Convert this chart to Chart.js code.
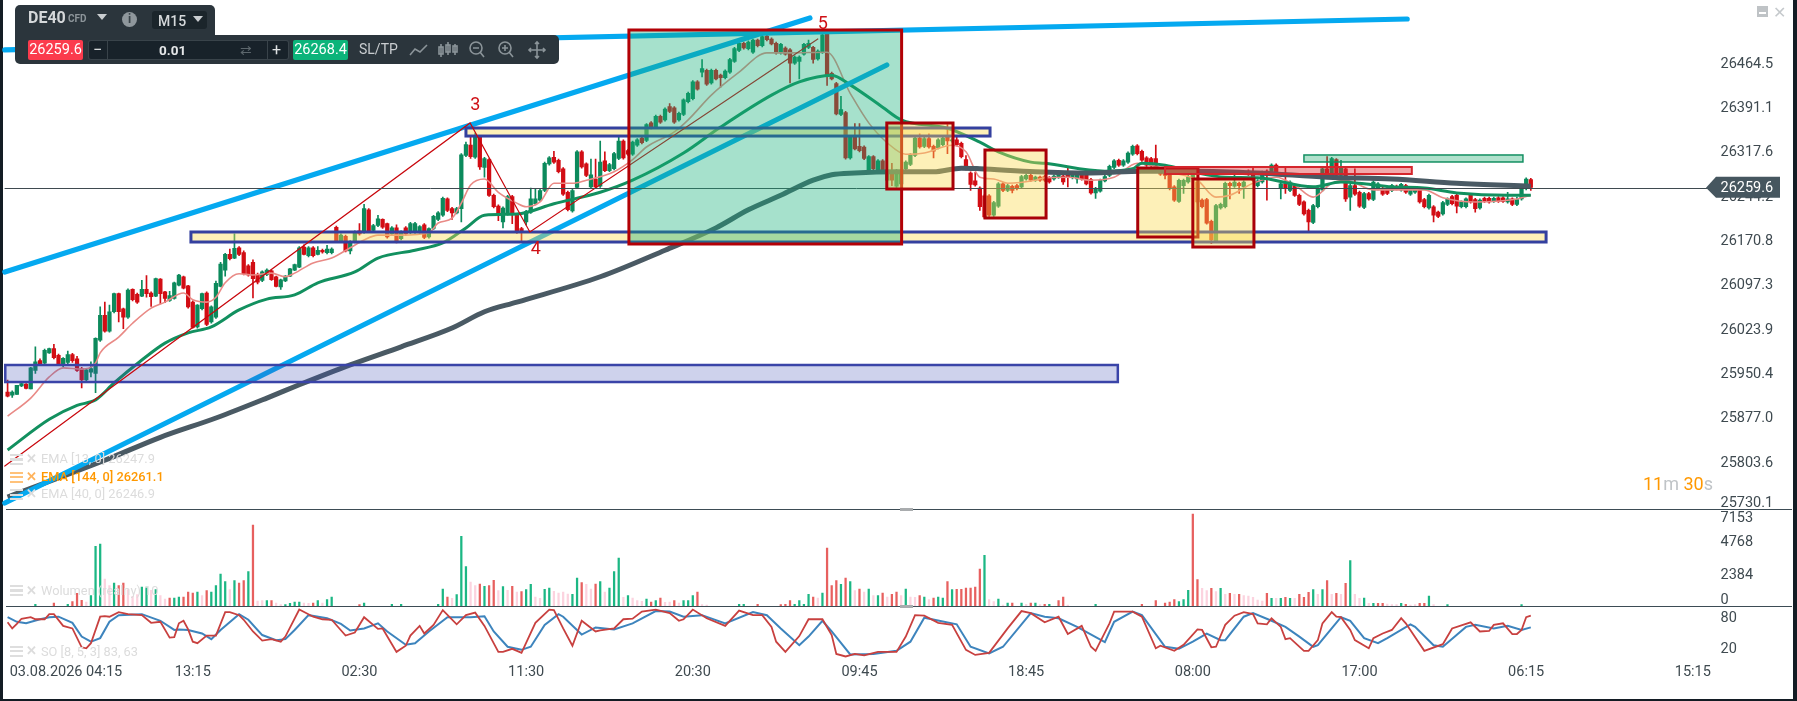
<!DOCTYPE html>
<html>
<head>
<meta charset="utf-8">
<title>DE40 M15</title>
<script src="https://cdn.jsdelivr.net/npm/chart.js@4/dist/chart.umd.min.js"></script>
<style>
html, body { margin: 0; padding: 0; width: 1797px; height: 701px; overflow: hidden; background: #131c24; font-family: Roboto, sans-serif; }
#paper { position: absolute; left: 3px; top: 0; width: 1790px; height: 699px; background: #fff; }
#chart { position: absolute; left: 0; top: 0; }
.abs { position: absolute; white-space: nowrap; line-height: 1; }
.panel { position: absolute; background: #2b353c; }
.legend { font-size: 12.8px; color: #dcdcdc; }
.stripes { position: absolute; width: 13px; height: 11px; background: repeating-linear-gradient(#dedede 0 2px, transparent 2px 4.5px); }
.tri { position: absolute; width: 0; height: 0; border-left: 5px solid transparent; border-right: 5px solid transparent; border-top: 6px solid #c9cdd0; }
</style>
</head>
<body>
<div id="paper"></div>
<canvas id="chart" width="1797" height="701"></canvas>

<!-- toolbar -->
<div class="panel" style="left:15px;top:5px;width:200px;height:34px;border-radius:5px 5px 0 0"></div>
<div class="panel" style="left:15px;top:35px;width:544px;height:29px;border-radius:0 5px 5px 5px"></div>
<div class="abs" style="left:28px;top:10px;font-size:16px;font-weight:700;color:#d5d8da">DE40</div>
<div class="abs" style="left:68px;top:14px;font-size:10px;font-weight:700;color:#8c9499">CFD</div>
<div class="tri" style="left:97px;top:14px"></div>
<div class="abs" style="left:122px;top:12px;width:15px;height:15px;border-radius:8px;background:#8f979c;color:#3a444a;font-size:12px;font-weight:700;text-align:center;line-height:15px">i</div>
<div class="abs" style="left:152px;top:11px;width:55px;height:18px;background:#1b252b;border-radius:3px"></div>
<div class="abs" style="left:158px;top:14px;font-size:14px;font-weight:500;color:#d5d8da">M15</div>
<div class="tri" style="left:193px;top:16px"></div>
<div class="abs" style="left:28px;top:40px;width:55px;height:20px;background:#fb3b4d;border-radius:2px;color:#fff;font-size:14.5px;text-align:center;line-height:20px">26259.6</div>
<div class="abs" style="left:89px;top:41px;width:199px;height:18px;background:#18222a;border-radius:2px;box-shadow:0 0 0 1px #39434a"></div>
<div class="abs" style="left:107px;top:41px;width:1px;height:18px;background:#39434a"></div>
<div class="abs" style="left:267px;top:41px;width:1px;height:18px;background:#39434a"></div>
<div class="abs" style="left:93px;top:42px;font-size:16px;color:#dfe2e4">−</div>
<div class="abs" style="left:159px;top:44px;font-size:13.5px;font-weight:700;color:#e4e6e8">0.01</div>
<div class="abs" style="left:240px;top:43px;font-size:14px;color:#5c666c">⇄</div>
<div class="abs" style="left:272px;top:42px;font-size:16px;color:#dfe2e4">+</div>
<div class="abs" style="left:293px;top:40px;width:55px;height:20px;background:#0cb47a;border-radius:2px;color:#fff;font-size:14.5px;text-align:center;line-height:20px">26268.4</div>
<div class="abs" style="left:359px;top:42px;font-size:14px;color:#c9cdd0">SL/TP</div>
<svg class="abs" style="left:408px;top:40px" width="145" height="20" fill="none" stroke="#8b9499" stroke-width="1.6">
  <path d="M2 15 L7 9 L12 12 L19 5"/>
  <path d="M33 4V17M40 2V15M47 4V15"/><rect x="31" y="7" width="4" height="7"/><rect x="38" y="5" width="4" height="7"/><rect x="45" y="6" width="4" height="6"/>
  <circle cx="68" cy="8" r="6"/><path d="M65 8H71M72 12L76 17"/>
  <circle cx="97" cy="8" r="6"/><path d="M94 8H100M97 5V11M101 12L105 17"/>
  <path d="M129 2V18M121 10H137M127 4L129 2L131 4M127 16L129 18L131 16M123 8L121 10L123 12M135 8L137 10L135 12"/>
</svg>

<!-- window buttons -->
<div class="abs" style="left:1757px;top:6px;width:11px;height:11px;background:#bfc3c6;border-bottom:0"></div>
<div class="abs" style="left:1759px;top:12px;width:7px;height:2px;background:#fff"></div>
<div class="abs" style="left:1773px;top:5px;font-size:16px;color:#c5c9cc">✕</div>

<!-- indicator legends -->
<div class="stripes" style="left:10px;top:454px"></div>
<div class="abs legend" style="left:26px;top:453px;font-weight:700">✕</div>
<div class="abs legend" style="left:41px;top:453px">EMA [13, 0] 26247.9</div>
<div class="stripes" style="left:10px;top:472px;background:repeating-linear-gradient(#ffc27a 0 2px, transparent 2px 4.5px)"></div>
<div class="abs legend" style="left:26px;top:471px;font-weight:700;color:#ffb35c">✕</div>
<div class="abs legend" style="left:41px;top:471px;color:#ff9800;font-weight:500">EMA [144, 0] 26261.1</div>
<div class="stripes" style="left:10px;top:489px"></div>
<div class="abs legend" style="left:26px;top:488px;font-weight:700">✕</div>
<div class="abs legend" style="left:41px;top:488px">EMA [40, 0] 26246.9</div>
<div class="stripes" style="left:10px;top:585px"></div>
<div class="abs legend" style="left:26px;top:585px;font-weight:700">✕</div>
<div class="abs legend" style="left:41px;top:585px">Wolumen (realny) 10</div>
<div class="stripes" style="left:10px;top:646px"></div>
<div class="abs legend" style="left:26px;top:645px;font-weight:700">✕</div>
<div class="abs legend" style="left:41px;top:646px">SO [8, 5, 3] 83, 63</div>

<!-- candle countdown -->
<div class="abs" style="left:1643px;top:475px;font-size:18px;color:#c0c4c7"><span style="color:#ff9800">11</span>m <span style="color:#ff9800">30</span>s</div>

<script>
const opens = [
  25921,25916,25917,25931,25934,25926,25957,25973,25969,25986,
  25993,25982,25965,25970,25983,25976,25960,25941,25954,25952,
  26007,26048,26022,26054,26084,26059,26045,26091,26083,26080,
  26091,26085,26080,26108,26087,26073,26076,26098,26112,26097,
  26070,26029,26059,26085,26037,26045,26096,26123,26149,26143,
  26160,26152,26130,26136,26116,26106,26116,26122,26112,26095,
  26105,26113,26123,26128,26161,26147,26160,26149,26156,26152,
  26152,26194,26172,26179,26155,26170,26188,26186,26223,26189,
  26197,26207,26200,26183,26193,26175,26193,26185,26186,26186,
  26198,26178,26192,26207,26214,26241,26225,26218,26225,26313,
  26330,26310,26343,26293,26306,26247,26229,26203,26216,26245,
  26215,26192,26203,26219,26233,26239,26255,26299,26310,26305,
  26291,26252,26221,26260,26319,26299,26261,26274,26262,26304,
  26288,26291,26308,26337,26321,26315,26330,26342,26338,26367,
  26360,26378,26372,26394,26392,26372,26381,26402,26407,26435,
  26451,26454,26433,26454,26446,26442,26451,26469,26487,26499,
  26490,26484,26504,26495,26511,26506,26499,26483,26491,26488,
  26466,26469,26481,26492,26492,26473,26484,26515,26449,26432,
  26381,26384,26309,26343,26328,26327,26288,26311,26288,26304,
  26272,26283,26262,26266,26291,26298,26313,26342,26328,26341,
  26328,26326,26331,26343,26337,26339,26333,26306,26284,26271,
  26259,26246,26246,26214,26229,26266,26255,26262,26263,26261,
  26274,26280,26272,26277,26278,26276,26274,26277,26279,26280,
  26276,26274,26280,26280,26273,26251,26254,26271,26280,26293,
  26305,26297,26302,26315,26329,26320,26309,26308,26308,26285,
  26284,26280,26261,26237,26263,26269,26274,26269,26239,26240,
  26204,26172,26226,26228,26267,26262,26267,26261,26287,26283,
  26263,26269,26287,26285,26297,26258,26266,26255,26263,26247,
  26236,26222,26202,26228,26256,26291,26280,26306,26280,26291,
  26244,26263,26252,26227,26250,26240,26258,26258,26258,26255,
  26262,26256,26263,26249,26252,26256,26240,26226,26228,26219,
  26216,26232,26245,26247,26228,26228,26247,26240,26226,26242,
  26242,26237,26243,26243,26236,26241,26232,26241,26258,26273
];
const closes = [
  25914,25921,25932,25935,25927,25961,25971,25968,25990,25993,
  25978,25968,25977,25983,25973,25957,25941,25958,25960,26010,
  26048,26022,26054,26084,26054,26045,26090,26074,26070,26091,
  26084,26079,26109,26084,26076,26081,26102,26115,26093,26062,
  26028,26065,26084,26033,26062,26101,26133,26149,26142,26159,
  26149,26117,26115,26109,26103,26120,26123,26107,26096,26107,
  26113,26125,26132,26160,26149,26160,26147,26156,26153,26158,
  26158,26172,26181,26155,26170,26186,26183,26225,26188,26197,
  26208,26194,26178,26193,26170,26186,26183,26200,26200,26195,
  26177,26192,26212,26218,26242,26222,26218,26225,26314,26331,
  26311,26346,26294,26308,26247,26228,26214,26226,26245,26216,
  26186,26186,26220,26241,26241,26255,26300,26309,26302,26286,
  26249,26223,26255,26319,26294,26280,26281,26261,26302,26288,
  26298,26316,26337,26309,26315,26335,26339,26334,26364,26359,
  26378,26368,26390,26386,26368,26383,26405,26416,26435,26423,
  26457,26431,26454,26440,26442,26453,26472,26490,26499,26491,
  26501,26504,26495,26510,26505,26498,26483,26497,26481,26466,
  26476,26476,26497,26499,26472,26486,26513,26446,26440,26382,
  26389,26309,26343,26324,26321,26308,26311,26291,26304,26287,
  26288,26272,26288,26288,26302,26314,26342,26327,26341,26327,
  26320,26339,26342,26337,26339,26331,26311,26291,26265,26264,
  26228,26211,26214,26235,26266,26255,26263,26255,26258,26278,
  26280,26272,26277,26272,26272,26269,26279,26282,26269,26276,
  26283,26283,26274,26266,26251,26258,26272,26278,26295,26304,
  26297,26304,26317,26328,26316,26305,26297,26297,26297,26282,
  26280,26258,26239,26272,26272,26277,26285,26236,26228,26201,
  26173,26230,26232,26267,26263,26269,26263,26269,26282,26272,
  26271,26285,26280,26297,26285,26266,26258,26269,26247,26232,
  26216,26203,26230,26258,26291,26280,26308,26280,26294,26241,
  26263,26249,26229,26250,26241,26269,26266,26249,26250,26263,
  26258,26265,26252,26258,26258,26236,26228,26247,26214,26212,
  26235,26241,26233,26229,26236,26241,26236,26225,26239,26237,
  26236,26242,26237,26237,26241,26232,26240,26260,26274,26260
];
const highs = [
  25941,25923,25932,25937,25935,25962,25996,25976,25992,25994,
  26000,25984,25978,25989,25985,25980,25962,25960,25971,26011,
  26062,26070,26065,26085,26085,26060,26092,26092,26085,26106,
  26114,26087,26110,26109,26088,26088,26103,26116,26113,26098,
  26072,26066,26085,26087,26064,26105,26136,26151,26158,26183,
  26162,26155,26132,26140,26118,26122,26125,26123,26113,26108,
  26114,26126,26133,26162,26165,26162,26162,26162,26158,26164,
  26160,26196,26183,26181,26172,26188,26200,26232,26225,26199,
  26214,26208,26201,26195,26198,26188,26195,26202,26202,26197,
  26200,26193,26214,26220,26244,26243,26227,26227,26316,26335,
  26346,26350,26346,26310,26308,26249,26231,26228,26247,26247,
  26217,26194,26222,26259,26258,26257,26302,26311,26320,26307,
  26293,26254,26257,26321,26321,26301,26307,26307,26337,26319,
  26300,26318,26343,26339,26323,26337,26341,26344,26366,26369,
  26380,26380,26392,26399,26394,26385,26407,26418,26437,26437,
  26472,26456,26456,26456,26448,26455,26474,26492,26501,26501,
  26503,26506,26506,26512,26513,26508,26501,26499,26493,26490,
  26478,26478,26499,26504,26494,26488,26515,26517,26451,26434,
  26411,26386,26345,26366,26366,26329,26313,26313,26306,26306,
  26290,26300,26290,26290,26304,26316,26344,26349,26343,26349,
  26330,26341,26344,26364,26341,26346,26335,26313,26286,26285,
  26261,26248,26248,26237,26268,26268,26265,26264,26265,26280,
  26282,26282,26279,26279,26280,26278,26281,26284,26281,26293,
  26285,26285,26282,26282,26275,26260,26274,26280,26297,26306,
  26307,26306,26319,26330,26331,26322,26311,26310,26330,26287,
  26286,26282,26263,26274,26274,26295,26287,26271,26241,26242,
  26206,26232,26234,26269,26269,26283,26269,26271,26289,26295,
  26273,26287,26289,26299,26299,26268,26294,26271,26265,26249,
  26238,26224,26232,26260,26293,26311,26310,26308,26305,26293,
  26265,26291,26254,26252,26252,26271,26268,26260,26260,26265,
  26264,26267,26265,26260,26260,26258,26242,26249,26230,26221,
  26237,26243,26247,26249,26238,26243,26249,26242,26241,26244,
  26244,26244,26245,26245,26252,26243,26244,26262,26276,26275
];
const lows = [
  25913,25912,25917,25930,25926,25926,25952,25965,25968,25985,
  25976,25966,25963,25968,25970,25955,25928,25939,25946,25920,
  26005,26020,26020,26052,26037,26026,26043,26072,26068,26079,
  26078,26063,26079,26067,26069,26071,26075,26097,26092,26060,
  26027,26027,26057,26031,26035,26043,26095,26113,26140,26142,
  26147,26115,26113,26077,26100,26104,26114,26106,26095,26091,
  26104,26112,26122,26127,26148,26145,26145,26148,26151,26150,
  26150,26170,26170,26153,26150,26168,26181,26184,26186,26187,
  26195,26192,26176,26181,26168,26173,26181,26183,26184,26184,
  26175,26176,26190,26205,26212,26220,26207,26216,26203,26311,
  26308,26308,26290,26277,26245,26226,26205,26193,26214,26200,
  26184,26170,26198,26217,26231,26237,26253,26297,26300,26284,
  26247,26221,26219,26258,26292,26278,26259,26259,26260,26286,
  26286,26289,26306,26307,26313,26313,26328,26332,26336,26357,
  26358,26366,26370,26384,26366,26370,26379,26400,26405,26421,
  26443,26429,26431,26438,26426,26440,26449,26467,26485,26489,
  26488,26482,26493,26493,26503,26496,26481,26481,26479,26433,
  26464,26440,26479,26490,26466,26471,26482,26429,26438,26380,
  26379,26307,26307,26322,26319,26306,26286,26289,26286,26285,
  26270,26263,26260,26264,26289,26296,26311,26325,26326,26325,
  26309,26324,26329,26316,26335,26329,26309,26289,26255,26262,
  26222,26209,26212,26212,26227,26253,26253,26251,26256,26259,
  26272,26270,26270,26270,26270,26267,26272,26275,26265,26261,
  26274,26267,26272,26264,26249,26242,26252,26269,26278,26291,
  26295,26295,26300,26313,26314,26303,26295,26295,26288,26280,
  26274,26256,26237,26235,26250,26267,26272,26234,26226,26199,
  26167,26170,26224,26226,26241,26260,26250,26242,26280,26270,
  26261,26267,26239,26283,26283,26241,26250,26253,26245,26230,
  26214,26187,26200,26226,26254,26278,26278,26278,26278,26237,
  26222,26247,26227,26225,26239,26238,26256,26247,26248,26253,
  26256,26254,26250,26247,26250,26234,26226,26224,26203,26210,
  26214,26230,26231,26218,26226,26226,26234,26219,26224,26235,
  26234,26235,26235,26235,26234,26230,26230,26239,26256,26255
];

// indicator lines, [bar, value]
const ema13 = [[0,25881],[5,25911],[9,25946],[12,25961],[16,25959],[19,25969],[20,25986],[24,26012],[27,26035],[31,26060],[34,26070],[38,26085],[40,26074],[43,26070],[45,26078],[47,26102],[50,26117],[53,26115],[57,26118],[60,26112],[62,26118],[66,26135],[70,26143],[74,26160],[77,26173],[80,26181],[85,26181],[91,26185],[93,26201],[96,26209],[98,26234],[100,26264],[103,26274],[106,26252],[110,26234],[112,26228],[115,26236],[118,26267],[122,26267],[125,26272],[131,26286],[135,26306],[138,26327],[144,26352],[147,26372],[152,26413],[158,26451],[164,26483],[169,26483],[177,26484],[182,26416],[186,26367],[190,26334],[194,26315],[198,26317],[204,26330],[207,26319],[210,26277],[213,26274],[216,26267],[222,26272],[224,26276],[229,26277],[234,26272],[239,26277],[244,26300],[247,26297],[252,26284],[257,26272],[261,26244],[264,26247],[269,26267],[274,26277],[278,26264],[282,26244],[286,26267],[289,26272],[295,26256],[303,26256],[306,26256],[310,26243],[317,26236],[326,26241],[329,26247]];
const ema40 = [[0,25825],[9,25876],[15,25899],[19,25908],[23,25936],[29,25974],[34,26002],[39,26019],[44,26029],[50,26057],[56,26075],[62,26082],[67,26102],[75,26120],[80,26143],[88,26156],[94,26168],[99,26193],[103,26214],[110,26216],[118,26233],[128,26252],[135,26272],[146,26317],[154,26360],[165,26413],[171,26435],[178,26446],[182,26430],[189,26393],[193,26372],[203,26358],[210,26335],[214,26319],[221,26302],[224,26300],[237,26287],[243,26291],[245,26300],[250,26297],[257,26284],[263,26277],[270,26276],[282,26261],[288,26269],[293,26266],[299,26261],[306,26259],[313,26251],[324,26247],[329,26247]];
const ema144 = [[0,25747],[21,25808],[33,25846],[45,25878],[56,25911],[63,25933],[74,25966],[85,25996],[96,26027],[103,26054],[110,26070],[128,26112],[142,26156],[153,26193],[160,26223],[167,26247],[174,26272],[178,26281],[183,26284],[192,26286],[200,26286],[206,26292],[210,26291],[222,26286],[234,26284],[245,26287],[256,26287],[270,26284],[285,26277],[299,26274],[313,26267],[329,26262]];

// volume, [bar, value]
const volGreen = [[6,130],[13,130],[18,803],[19,4636],[20,4817],[23,1787],[29,1476],[30,1476],[32,1269],[36,622],[37,699],[41,1088],[44,1088],[45,1580],[46,2486],[47,1891],[49,1968],[52,2668],[56,414],[60,104],[61,207],[62,311],[63,311],[67,414],[69,492],[70,699],[77,233],[83,130],[85,130],[93,130],[94,1321],[97,880],[98,5413],[99,3056],[103,1528],[107,1502],[112,1269],[113,1683],[116,1295],[117,1399],[122,906],[123,2176],[128,1891],[130,1399],[131,2668],[132,3730],[134,803],[138,544],[140,414],[146,414],[147,414],[148,803],[158,130],[159,130],[170,130],[171,414],[172,130],[173,906],[176,1010],[180,1683],[182,1891],[186,1321],[188,803],[194,1321],[198,699],[201,699],[202,622],[204,1269],[211,3937],[214,544],[216,233],[219,233],[222,233],[225,130],[235,130],[253,337],[254,492],[255,1217],[262,1373],[273,596],[275,596],[277,596],[282,1269],[284,1269],[290,3522],[293,622],[295,207],[301,207],[307,777],[311,104],[327,104]];
const volRed = [[10,233],[14,337],[15,984],[16,440],[24,1580],[25,1787],[35,622],[38,699],[39,1088],[40,1010],[43,1191],[50,1787],[51,1968],[53,6294],[57,414],[66,233],[76,104],[95,699],[102,1709],[104,1580],[105,1994],[109,1528],[111,1114],[124,1813],[127,1709],[139,311],[141,622],[144,414],[149,1088],[162,130],[167,104],[168,130],[169,414],[174,699],[177,4507],[178,1580],[179,1968],[181,2176],[184,1321],[189,1010],[191,906],[192,1088],[197,803],[200,622],[203,1891],[205,1295],[206,1295],[207,1399],[208,1399],[209,1476],[210,2875],[217,233],[221,233],[224,130],[227,414],[228,699],[245,130],[248,414],[250,233],[251,311],[252,492],[256,7153],[257,2060],[260,1373],[264,984],[266,906],[272,984],[276,673],[279,906],[280,673],[281,1062],[285,1968],[287,984],[289,1761],[296,207],[297,207],[302,130],[305,207],[306,207]];
const volPale = [[17,311],[21,2098],[22,1580],[26,1270],[27,751],[28,880],[31,1217],[33,803],[34,544],[42,803],[48,1269],[54,388],[55,414],[58,233],[59,104],[64,233],[65,207],[68,233],[96,596],[100,1865],[101,1580],[106,1191],[108,1217],[110,1088],[114,699],[115,596],[118,1140],[119,1010],[120,1088],[121,932],[125,1683],[126,1321],[129,1088],[133,673],[135,622],[136,414],[137,363],[142,285],[143,311],[145,233],[150,104],[151,78],[175,622],[183,1191],[185,1088],[187,803],[190,699],[193,803],[195,699],[196,673],[199,492],[212,492],[213,337],[215,78],[220,130],[223,104],[229,78],[258,1373],[259,1191],[261,1114],[263,906],[265,906],[267,803],[268,777],[269,673],[270,466],[271,388],[274,596],[278,596],[283,906],[286,906],[288,906],[291,906],[292,596],[294,207],[298,155],[299,104],[300,104],[303,78],[304,104],[308,104]];

// stochastic, [bar, value]
const soK = [[0,71],[1,59],[2,68],[3,78],[5,81],[6,77],[8,77],[9,87],[10,87],[12,64],[14,59],[16,22],[17,20],[18,30],[20,82],[21,83],[22,82],[24,91],[26,87],[29,85],[31,70],[33,72],[35,41],[36,42],[37,69],[38,74],[39,57],[40,33],[41,30],[43,45],[45,45],[47,91],[48,91],[50,85],[51,76],[53,53],[55,35],[57,38],[59,33],[60,43],[63,96],[66,82],[68,77],[70,76],[73,45],[75,51],[77,81],[80,58],[81,59],[84,13],[86,25],[87,45],[89,64],[90,49],[92,66],[94,95],[97,67],[99,85],[101,90],[103,64],[106,13],[107,13],[109,19],[111,11],[114,70],[117,96],[118,95],[120,59],[122,25],[124,74],[127,53],[128,55],[131,59],[133,77],[135,78],[137,92],[140,96],[143,89],[145,74],[146,77],[148,96],[151,79],[155,64],[158,94],[161,85],[163,85],[165,62],[166,33],[168,13],[171,44],[173,77],[176,77],[178,46],[179,9],[181,4],[183,9],[185,6],[188,13],[192,13],[194,43],[196,85],[198,84],[201,70],[204,66],[207,17],[209,7],[212,11],[216,59],[219,93],[221,89],[224,71],[227,82],[229,48],[232,64],[234,23],[235,15],[238,69],[239,92],[243,92],[245,82],[248,20],[249,25],[252,15],[254,27],[257,57],[258,56],[260,22],[261,23],[263,66],[265,84],[267,91],[269,87],[270,69],[272,67],[273,79],[275,62],[276,38],[277,40],[280,15],[281,15],[283,36],[284,69],[286,91],[287,82],[288,81],[290,56],[291,36],[294,20],[295,40],[297,49],[299,56],[301,79],[302,69],[306,15],[310,28],[312,59],[316,71],[318,53],[320,54],[321,66],[323,69],[325,48],[326,48],[327,56],[328,81],[329,84]];
const soD = [[0,81],[2,72],[4,69],[7,77],[9,81],[11,82],[14,70],[16,43],[18,33],[20,40],[22,72],[24,85],[29,87],[33,74],[36,56],[37,57],[39,56],[42,49],[44,38],[46,56],[50,87],[52,76],[55,46],[58,36],[60,38],[62,56],[65,85],[69,79],[72,68],[74,55],[77,59],[80,69],[82,53],[86,27],[88,30],[91,53],[95,81],[100,81],[103,83],[105,53],[108,23],[111,17],[113,23],[116,66],[119,87],[120,82],[124,47],[127,61],[128,60],[131,57],[135,69],[140,93],[143,92],[146,82],[150,85],[155,69],[161,91],[164,85],[167,59],[171,26],[173,43],[176,74],[178,53],[182,8],[187,9],[192,15],[195,33],[198,80],[205,67],[208,23],[212,10],[215,23],[221,89],[224,82],[227,79],[231,62],[237,32],[239,72],[243,92],[245,85],[250,23],[253,19],[256,33],[259,49],[262,36],[263,36],[267,82],[269,89],[273,74],[276,62],[279,43],[282,23],[283,26],[288,81],[290,74],[293,40],[296,30],[298,40],[303,67],[304,62],[308,26],[310,23],[315,62],[317,66],[321,59],[324,64],[327,56],[329,61]];

// axis labels
const priceTicks = [26464.5, 26391.1, 26317.6, 26244.2, 26170.8, 26097.3, 26023.9, 25950.4, 25877.0, 25803.6, 25730.1];
const volTicks = [7153, 4768, 2384, 0];
const soTicks = [80, 20];
const timeBars = [4, 40, 76, 112, 148, 184, 220, 256, 292, 328, 364];
const timeLabels = ['03.08.2026 04:15', '13:15', '02:30', '11:30', '20:30', '09:45', '18:45', '08:00', '17:00', '06:15', '15:15'];
const lastPrice = 26259.6;

// drawn objects on the chart, in bars and prices: [bar0, bar1, price0, price1]
const yellowBandLow = [39.6, 332.3, 26186.2, 26169.6];
const yellowBandHigh = [99, 212.2, 26358.5, 26345.2];
const purpleBand = [-0.5, 239.8, 25965.8, 25937.6];
const greenBox = [134.2, 193.1, 26520.9, 26166.3];
const yellowBoxes = [
  [189.9, 204.2, 26366.8, 26257.4],
  [211.1, 224.3, 26322, 26209.4],
  [244.1, 257.1, 26292.2, 26177.9],
  [256, 269.2, 26274, 26161.3]
];
const redBand = [250, 303.3, 26293.9, 26282.3];
const greenBand = [280, 327.3, 26313.8, 26302.2];
// trend lines [bar0, price0, bar1, price1]
const trendLines = [
  [-0.6, 26119.9, 173.3, 26540.8],
  [-0.6, 26487.8, 302.3, 26539.1],
  [-0.6, 25737.1, 189.9, 26462.9]
];
const wave = [[-0.6, 25798.4], [99.9, 26366.8], [112.8, 26186.2], [175, 26506]];
const waveLabels = [['3', 101, 26396.6], ['4', 114.1, 26156.4], ['5', 176.1, 26530.8]];

const UP = '#0c8a5c';
const DOWN = '#d20d14';
const TICK_FONT = { family: 'Roboto', size: 14.5 };
const TICK_COLOR = '#3f4a50';

function pairs(list) {
  return list.map(function (p) { return { x: p[0], y: p[1] }; });
}

function emaLine(list, color, width, order) {
  return {
    type: 'line', data: pairs(list), yAxisID: 'y', borderColor: color, borderWidth: width,
    pointRadius: 0, cubicInterpolationMode: 'monotone', order: order
  };
}

function soLine(list, color, width, order) {
  return {
    type: 'line', data: pairs(list), yAxisID: 'ySo', borderColor: color, borderWidth: width,
    pointRadius: 0, order: order
  };
}

function volBars(list, color) {
  return { data: pairs(list), yAxisID: 'yVol', backgroundColor: color, barThickness: 1.6, grouped: false, order: 6 };
}

// labels must not add margins around the panes
function fitPane(s) {
  s.width = 77;
  s.paddingTop = 0;
  s.paddingBottom = 0;
}

function drawBox(ctx, chart, b, fill, stroke, lw) {
  const sx = chart.scales.x, sy = chart.scales.y;
  const x0 = sx.getPixelForValue(b[0]), x1 = sx.getPixelForValue(b[1]);
  const y0 = sy.getPixelForValue(b[2]), y1 = sy.getPixelForValue(b[3]);
  ctx.fillStyle = fill;
  ctx.fillRect(x0, y0, x1 - x0, y1 - y0);
  ctx.strokeStyle = stroke;
  ctx.lineWidth = lw;
  ctx.strokeRect(x0, y0, x1 - x0, y1 - y0);
}

const overlays = {
  id: 'overlays',
  afterDatasetsDraw: function (chart) {
    const ctx = chart.ctx, sx = chart.scales.x, sy = chart.scales.y;
    ctx.save();
    ctx.lineCap = 'round';
    trendLines.forEach(function (l) {
      ctx.strokeStyle = '#05a9f0';
      ctx.lineWidth = 5.2;
      ctx.beginPath();
      ctx.moveTo(sx.getPixelForValue(l[0]), sy.getPixelForValue(l[1]));
      ctx.lineTo(sx.getPixelForValue(l[2]), sy.getPixelForValue(l[3]));
      ctx.stroke();
    });
    drawBox(ctx, chart, purpleBand, 'rgba(60,75,180,0.25)', '#3a44a8', 2.5);
    drawBox(ctx, chart, yellowBandLow, 'rgba(250,218,78,0.4)', '#34409f', 3);
    drawBox(ctx, chart, yellowBandHigh, 'rgba(250,218,78,0.4)', '#34409f', 3);
    ctx.strokeStyle = '#c8060c';
    ctx.lineWidth = 1.2;
    ctx.beginPath();
    wave.forEach(function (p, i) {
      const x = sx.getPixelForValue(p[0]), y = sy.getPixelForValue(p[1]);
      if (i === 0) ctx.moveTo(x, y); else ctx.lineTo(x, y);
    });
    ctx.stroke();
    ctx.strokeStyle = '#3f4a50';
    ctx.lineWidth = 1;
    const py = Math.round(sy.getPixelForValue(lastPrice)) + 0.5;
    ctx.beginPath();
    ctx.moveTo(5, py);
    ctx.lineTo(1708, py);
    ctx.stroke();
    drawBox(ctx, chart, greenBox, 'rgba(20,175,120,0.38)', '#b30006', 3);
    yellowBoxes.forEach(function (b) {
      drawBox(ctx, chart, b, 'rgba(250,218,78,0.4)', '#a90008', 3);
    });
    drawBox(ctx, chart, redBand, 'rgba(225,50,55,0.42)', '#d5262c', 2);
    drawBox(ctx, chart, greenBand, 'rgba(30,170,110,0.35)', '#138f62', 1.5);
    ctx.fillStyle = '#cf1016';
    ctx.font = '18px Roboto';
    ctx.textAlign = 'center';
    ctx.textBaseline = 'middle';
    waveLabels.forEach(function (l) {
      ctx.fillText(l[0], sx.getPixelForValue(l[1]), sy.getPixelForValue(l[2]));
    });
    ctx.restore();
  },
  afterDraw: function (chart) {
    const ctx = chart.ctx, sy = chart.scales.y;
    ctx.save();
    // pane separators and resize handles
    [chart.scales.yVol.top, chart.scales.ySo.top].forEach(function (y) {
      ctx.fillStyle = '#3d4c55';
      ctx.fillRect(6, Math.round(y), 1786, 1);
      ctx.fillStyle = '#a9acae';
      ctx.fillRect(900, Math.round(y) - 1, 13, 3);
    });
    // last price tag
    const py = sy.getPixelForValue(lastPrice);
    ctx.fillStyle = '#46565f';
    ctx.beginPath();
    ctx.moveTo(1706, py);
    ctx.lineTo(1716, py - 11);
    ctx.lineTo(1780, py - 11);
    ctx.lineTo(1780, py + 10);
    ctx.lineTo(1716, py + 10);
    ctx.closePath();
    ctx.fill();
    ctx.fillStyle = '#ffffff';
    ctx.font = '14.5px Roboto';
    ctx.textAlign = 'left';
    ctx.textBaseline = 'middle';
    ctx.fillText(lastPrice.toFixed(1), 1720.5, py + 0.5);
    ctx.restore();
  }
};

const bars = opens.map(function (o, i) { return i; });
const candleColors = opens.map(function (o, i) { return closes[i] >= o ? UP : DOWN; });

new Chart(document.getElementById('chart').getContext('2d'), {
  type: 'bar',
  data: {
    datasets: [
      { data: bars.map(function (i) { return { x: i, y: [lows[i], highs[i]] }; }), yAxisID: 'y', backgroundColor: candleColors, barThickness: 1, grouped: false, order: 5 },
      { data: bars.map(function (i) { return { x: i, y: [opens[i], closes[i]] }; }), yAxisID: 'y', backgroundColor: candleColors, barThickness: 3.6, grouped: false, order: 4 },
      emaLine(ema13, '#e98a86', 1.6, 3),
      emaLine(ema40, '#12905f', 3, 2),
      emaLine(ema144, '#4a5a64', 5, 1),
      volBars(volPale, '#fcd3df'),
      volBars(volRed, '#e7605f'),
      volBars(volGreen, '#1cb784'),
      soLine(soD, '#3d84bd', 2, 1),
      soLine(soK, '#c8403f', 1.8, 0)
    ]
  },
  options: {
    responsive: false,
    animation: false,
    devicePixelRatio: 1,
    layout: { padding: { left: 5, right: 4, top: 0, bottom: 2 } },
    plugins: { legend: { display: false }, tooltip: { enabled: false } },
    scales: {
      x: {
        type: 'linear', offset: false, min: -0.56, max: 369,
        grid: { display: false, tickLength: 0 }, border: { display: false },
        afterFit: function (s) { s.height = 40; s.paddingLeft = 0; s.paddingRight = 0; },
        afterBuildTicks: function (s) {
          // the first label is left aligned in the original, so its anchor sits further right
          s.ticks = timeBars.map(function (b, i) { return { value: i === 0 ? b + 8.6 : b }; });
        },
        ticks: {
          autoSkip: false, maxRotation: 0, minRotation: 0, padding: 5,
          font: TICK_FONT, color: TICK_COLOR,
          callback: function (v, i) { return timeLabels[i]; }
        }
      },
      y: {
        position: 'right', stack: 'panes', stackWeight: 508.7, min: 25727.7, max: 26570.6,
        grid: { display: false, tickLength: 0 }, border: { display: false },
        afterFit: fitPane,
        afterBuildTicks: function (s) {
          // the last label is pushed clear of the separator
          s.ticks = priceTicks.map(function (v, i) { return { value: i === priceTicks.length - 1 ? v + 7 : v }; });
        },
        ticks: {
          autoSkip: false, padding: 4.5, crossAlign: 'near', font: TICK_FONT, color: TICK_COLOR,
          callback: function (v, i) { return priceTicks[i].toFixed(1); }
        }
      },
      yVol: {
        position: 'right', stack: 'panes', stackWeight: 97.3, min: 0, max: 7565,
        grid: { display: false, tickLength: 0 }, border: { display: false },
        afterFit: fitPane,
        afterBuildTicks: function (s) {
          // labels are spread inside the pane, not on their exact levels
          const nudge = [-365, 154, 3, 467];
          s.ticks = volTicks.map(function (v, i) { return { value: v + nudge[i] }; });
        },
        ticks: {
          autoSkip: false, padding: 4.5, crossAlign: 'near', font: TICK_FONT, color: TICK_COLOR,
          callback: function (v, i) { return String(volTicks[i]); }
        }
      },
      ySo: {
        position: 'right', stack: 'panes', stackWeight: 53, min: -1, max: 103,
        grid: { display: false, tickLength: 0 }, border: { display: false },
        afterFit: fitPane,
        afterBuildTicks: function (s) {
          s.ticks = soTicks.map(function (v) { return { value: v - 2 }; });
        },
        ticks: {
          autoSkip: false, padding: 4.5, crossAlign: 'near', font: TICK_FONT, color: TICK_COLOR,
          callback: function (v, i) { return String(soTicks[i]); }
        }
      }
    }
  },
  plugins: [overlays]
});
</script>
</body>
</html>
